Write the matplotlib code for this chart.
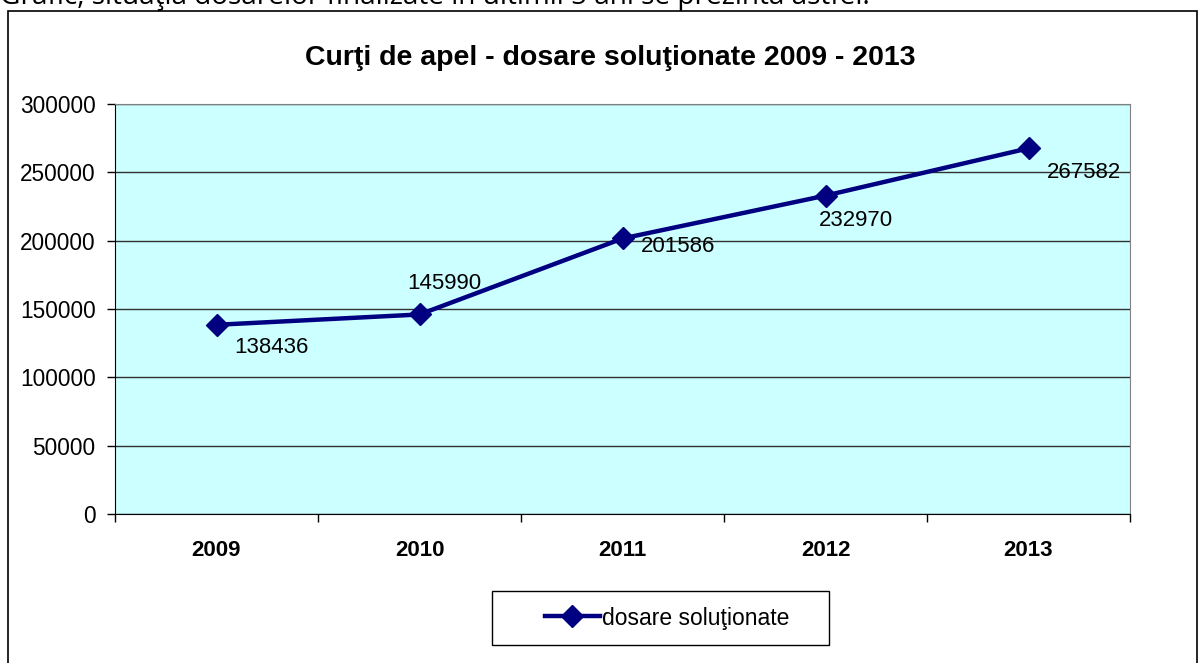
import matplotlib.pyplot as plt
from matplotlib.patches import Rectangle

years = ['2009', '2010', '2011', '2012', '2013']
dosare = [138436, 145990, 201586, 232970, 267582]
# label offsets (pixels) as placed in the original chart
label_dx = [18, -12, 18, -7, 18]
label_dy = [-23, 31, -8, -25, -24]

plt.rcParams['font.family'] = ['Liberation Sans', 'DejaVu Sans']

fig = plt.figure(figsize=(11.99, 6.63), dpi=100)
W, H = 1199, 663

# cut-off sentence above the chart
fig.text(0.0, 1 - 4 / H, 'Grafic, situaţia dosarelor finalizate în ultimii 5 ani se prezintă astfel:',
         family=['Open Sans', 'DejaVu Sans'], fontsize=20.2, va='baseline', ha='left')

# outer chart frame
fig.patches.append(Rectangle((8 / W, -0.01), (1197 - 8) / W, 1 - 11 / H + 0.01,
                             transform=fig.transFigure, fill=False, edgecolor='black', lw=1.2))

ax = fig.add_axes([115 / W, 1 - 514 / H, (1130 - 115) / W, (514 - 104) / H])
ax.set_facecolor('#CCFFFF')

x = list(range(len(years)))
line, = ax.plot(x, dosare, color='#000080', lw=3.2, marker='D', markersize=11,
                label='dosare soluţionate', zorder=3)

for i, v in enumerate(dosare):
    ax.annotate(str(v), (x[i], v), xytext=(label_dx[i], label_dy[i]), textcoords='offset pixels',
                ha='left', va='center', fontsize=16)

ax.set_xlim(-0.5, 4.5)
ax.set_ylim(0, 300000)
ax.set_yticks(range(0, 300001, 50000))
ax.yaxis.grid(True, color='#303030', lw=1)
ax.set_axisbelow(True)
ax.tick_params(axis='y', labelsize=16.3, length=6, width=1, pad=8)

ax.set_xticks(x)
ax.set_xticklabels(years, fontsize=16, fontweight='bold')
ax.set_xticks([i - 0.5 for i in range(len(years) + 1)], minor=True)
ax.tick_params(axis='x', which='major', length=0, pad=19)
ax.tick_params(axis='x', which='minor', length=6, width=1)

for s in ['top', 'right']:
    ax.spines[s].set_color('#808080')
for s in ['left', 'bottom']:
    ax.spines[s].set_color('black')

fig.text(610 / W, 1 - 58 / H, 'Curţi de apel - dosare soluţionate 2009 - 2013',
         fontsize=20.5, fontweight='bold', ha='center', va='center')

# legend box drawn as a plain rectangle, entries without frame
fig.patches.append(Rectangle((492 / W, 1 - 645 / H), (829 - 492) / W, 54 / H,
                             transform=fig.transFigure, fill=False, edgecolor='black', lw=1))
fig.legend(handles=[line], loc='center', bbox_to_anchor=(667 / W, 1 - 618 / H),
           fontsize=16.5, frameon=False, handlelength=2.4, handletextpad=0.1,
           borderpad=0, borderaxespad=0)

fig.savefig('out.png', dpi=100)
